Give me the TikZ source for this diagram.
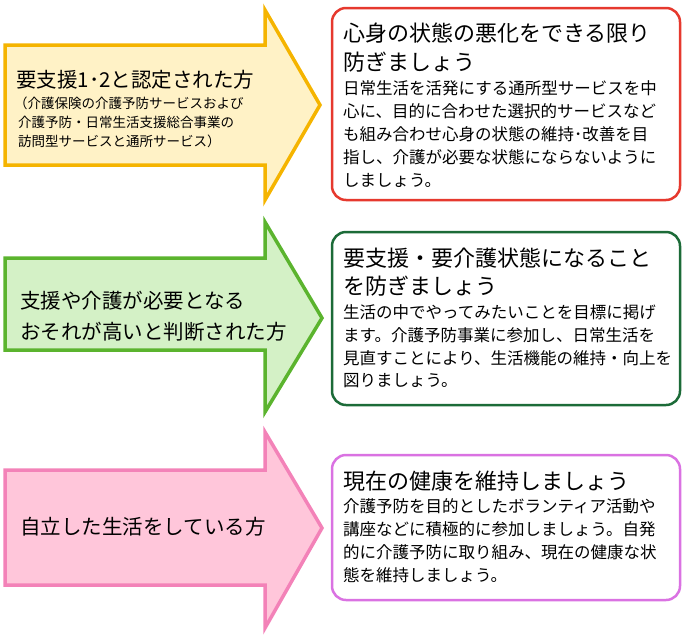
\documentclass[tikz,border=0pt]{standalone}
\usepackage{fontspec}
\setmainfont{Noto Sans CJK JP}
\begin{document}
\begin{tikzpicture}[x=1pt,y=-1pt,
  arr/.style={line width=3.5pt,line join=miter},
  box/.style={line width=2.5pt,rounded corners=14pt,fill=white},
  ttl/.style={anchor=west,inner sep=0pt,font=\fontsize{22}{24}\selectfont},
  bd/.style={anchor=west,inner sep=0pt,font=\fontsize{16.5}{18}\selectfont},
  big/.style={anchor=west,inner sep=0pt,font=\fontsize{20.5}{22}\selectfont},
  sm/.style={anchor=west,inner sep=0pt,font=\fontsize{13.5}{15}\selectfont}]
\useasboundingbox (0,0) rectangle (685,635);
\definecolor{y1}{HTML}{FFF2C6}\definecolor{y2}{HTML}{F5B400}
\definecolor{g1}{HTML}{D4F1C6}\definecolor{g2}{HTML}{5BB42E}
\definecolor{p1}{HTML}{FFC6DA}\definecolor{p2}{HTML}{F382B8}
\definecolor{r2}{HTML}{E6392E}\definecolor{d2}{HTML}{1C6B38}\definecolor{v2}{HTML}{DA72E2}
% arrows
\draw[arr,draw=y2,fill=y1] (5,45)--(265,45)--(265,10)--(320,105)--(265,200)--(265,165)--(5,165)--cycle;
\draw[arr,draw=g2,fill=g1] (5,258)--(265,258)--(265,222)--(322,318)--(265,412)--(265,350)--(5,350)--cycle;
\draw[arr,draw=p2,fill=p1] (5,470)--(265,470)--(265,432)--(322,528)--(265,628)--(265,585)--(5,585)--cycle;
% boxes
\draw[box,draw=r2] (332,8) rectangle (680,200);
\draw[box,draw=d2] (332,232) rectangle (680,405);
\draw[box,draw=v2] (332,455) rectangle (680,600);
% arrow texts
\node[big] (a1) at (16,80) {要支援1･2と認定された方};
\node[sm] (a2) at (14,103) {（介護保険の介護予防サービスおよび};
\node[sm] (a3) at (18,122) {介護予防・日常生活支援総合事業の};
\node[sm] (a4) at (18,141) {訪問型サービスと通所サービス）};
\node[big] (b1) at (20,301) {支援や介護が必要となる};
\node[big] (b2) at (20,332) {おそれが高いと判断された方};
\node[big] (c1) at (20,527) {自立した生活をしている方};
% box 1
\node[ttl] (t1) at (343,33) {心身の状態の悪化をできる限り};
\node[ttl] (t2) at (343,62) {防ぎましょう};
\node[bd] (l1) at (343,88) {日常生活を活発にする通所型サービスを中};
\node[bd] (l2) at (343,111) {心に、目的に合わせた選択的サービスなど};
\node[bd] (l3) at (343,134) {も組み合わせ心身の状態の維持･改善を目};
\node[bd] (l4) at (343,157) {指し、介護が必要な状態にならないように};
\node[bd] (l5) at (343,180) {しましょう。};
% box 2
\node[ttl] (u1) at (343,258) {要支援・要介護状態になること};
\node[ttl] (u2) at (343,286) {を防ぎましょう};
\node[bd] (m1) at (343,312) {生活の中でやってみたいことを目標に掲げ};
\node[bd] (m2) at (343,335) {ます。介護予防事業に参加し、日常生活を};
\node[bd] (m3) at (343,358) {見直すことにより、生活機能の維持・向上を};
\node[bd] (m4) at (343,381) {図りましょう。};
% box 3
\node[ttl] (v1) at (343,481) {現在の健康を維持しましょう};
\node[bd] (n1) at (343,506) {介護予防を目的としたボランティア活動や};
\node[bd] (n2) at (343,529) {講座などに積極的に参加しましょう。自発};
\node[bd] (n3) at (343,552) {的に介護予防に取り組み、現在の健康な状};
\node[bd] (n4) at (343,575) {態を維持しましょう。};
\end{tikzpicture}
\end{document}
